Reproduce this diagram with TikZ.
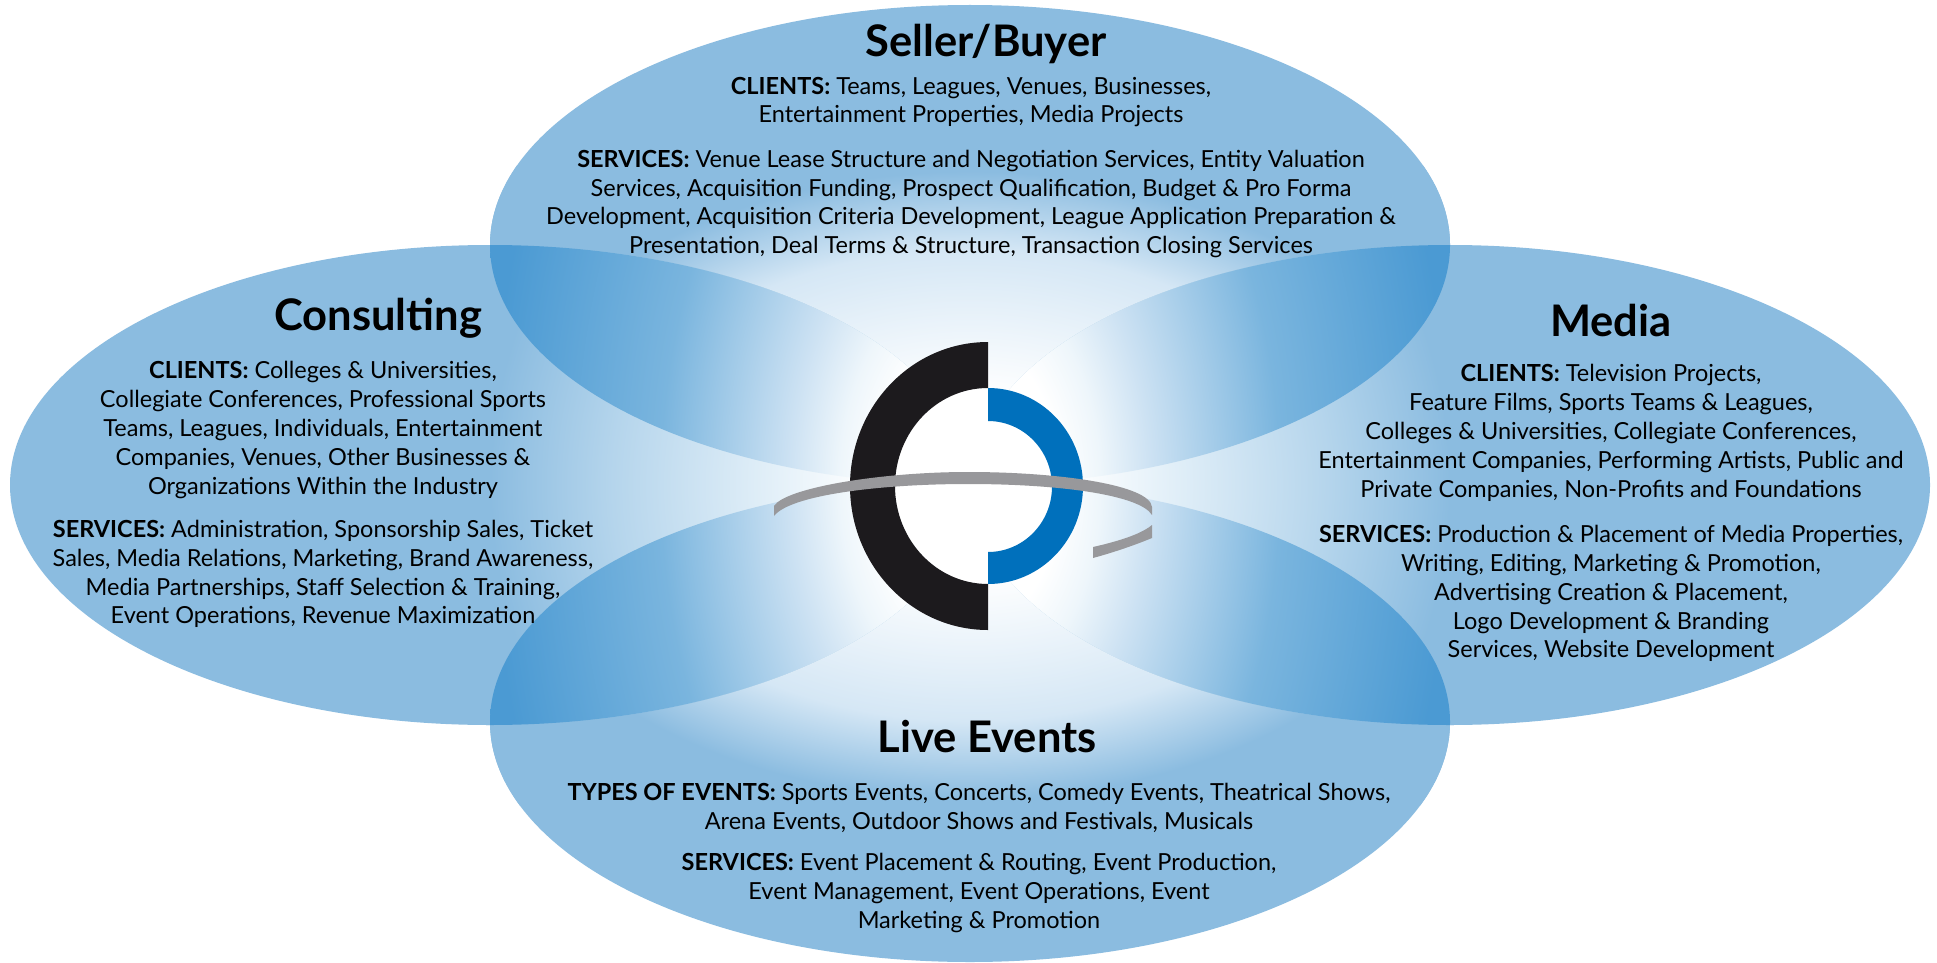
\documentclass[tikz,border=0pt]{standalone}
\usepackage{fontspec}
\setmainfont{Lato}
\definecolor{solo}{HTML}{8BBCE0}
\definecolor{lens}{HTML}{4B9AD3}
\definecolor{soloA}{HTML}{E5F1F9}
\definecolor{soloB}{HTML}{B5D5EC}
\definecolor{soloC}{HTML}{D5E7F5}
\definecolor{lensA}{HTML}{EEF6FB}
\definecolor{lensB}{HTML}{CDE2F3}
\definecolor{lensC}{HTML}{7AB5DE}
\definecolor{logoblack}{HTML}{1C1A1D}
\definecolor{logoblue}{HTML}{0070BC}
\definecolor{logogray}{HTML}{98989B}
\pgfdeclareradialshading{soloside}{\pgfpoint{0bp}{0bp}}{color(0bp)=(white); color(5bp)=(white); color(9.5bp)=(soloA); color(17.85bp)=(soloB); color(24bp)=(solo); color(50bp)=(solo)}
\pgfdeclareradialshading{solotop}{\pgfpoint{0bp}{0bp}}{color(0bp)=(white); color(7bp)=(white); color(18.4bp)=(soloC); color(24.5bp)=(solo); color(50bp)=(solo)}
\pgfdeclareradialshading{lensshade}{\pgfpoint{0bp}{0bp}}{color(0bp)=(white); color(4.5bp)=(white); color(6.5bp)=(lensA); color(9bp)=(lensB); color(15.5bp)=(lensC); color(24bp)=(lens); color(50bp)=(lens)}
\tikzset{
  titletext/.style={font=\fontsize{43.5}{48}\selectfont\bfseries, text=black, inner sep=0pt},
  bodytext/.style={font=\fontsize{23.5}{28.9}\selectfont, text=black, align=center, inner sep=0pt},
}
\newcommand{\lab}[1]{\textbf{#1}}
\begin{document}
\begin{tikzpicture}[x=1pt,y=-1pt]
\useasboundingbox (0,0) rectangle (1937,963);
\fill[white] (0,0) rectangle (1937,963);
% solo regions
\foreach \cx/\cy in {970/245, 970/722}{
  \fill[solo] (\cx,\cy) ellipse (480pt and 240pt);
  \begin{scope}
    \clip (\cx,\cy) ellipse (480pt and 240pt);
    \path[shading=solotop] (470,165) rectangle (1470,805);
  \end{scope}
}
\foreach \cx/\cy in {490/485, 1450/485}{
  \fill[solo] (\cx,\cy) ellipse (480pt and 240pt);
  \begin{scope}
    \clip (\cx,\cy) ellipse (480pt and 240pt);
    \path[shading=soloside] (470,-15) rectangle (1470,985);
  \end{scope}
}
% overlap lenses
\foreach \ax/\ay/\bx/\by in {970/245/490/485, 970/245/1450/485, 970/722/490/485, 970/722/1450/485}{
  \begin{scope}
    \clip (\ax,\ay) ellipse (480pt and 240pt);
    \clip (\bx,\by) ellipse (480pt and 240pt);
    \path[shading=lensshade] (470,-315) rectangle (1470,1285);
  \end{scope}
}
% logo
\fill[white] (988,486) ellipse (95pt and 98pt);
\fill[logoblack] (988,342) arc[start angle=90,end angle=270,x radius=138pt,y radius=144pt]
  -- (988,584) arc[start angle=270,end angle=90,x radius=93pt,y radius=98pt] -- cycle;
\fill[logoblue] (988,388) arc[start angle=90,end angle=-90,x radius=95pt,y radius=98pt]
  -- (988,552) arc[start angle=-90,end angle=90,x radius=64pt,y radius=65.5pt] -- cycle;
\fill[logogray] (774,506) .. controls (785,488) and (880,472) .. (968,472)
  .. controls (1060,472) and (1150,485) .. (1152,507) -- (1152,515)
  .. controls (1140,495) and (1060,484) .. (968,484)
  .. controls (880,484) and (790,495) .. (774,516) -- cycle;
\fill[logogray] (1152,525) -- (1152,538) .. controls (1135,545) and (1115,552) .. (1093,558)
  -- (1093,547) .. controls (1115,542) and (1140,535) .. (1152,525) -- cycle;
% titles
\node[titletext] (tSeller) at (986,44) {Seller/Buyer};
\node[titletext] (tConsulting) at (378,318) {Consulting};
\node[titletext] (tMedia) at (1611,321) {Media};
\node[titletext] (tLive) at (987,737) {Live Events};
% Seller/Buyer
\node[bodytext] (sbClients) at (971,102) {\lab{CLIENTS:} Teams, Leagues, Venues, Businesses,\\Entertainment Properties, Media Projects};
\node[bodytext] (sbServices) at (971,204) {\lab{SERVICES:} Venue Lease Structure and Negotiation Services, Entity Valuation\\Services, Acquisition Funding, Prospect Qualification, Budget \& Pro Forma\\Development, Acquisition Criteria Development, League Application Preparation \&\\Presentation, Deal Terms \& Structure, Transaction Closing Services};
% Consulting
\node[bodytext] (coClients) at (323,430) {\lab{CLIENTS:} Colleges \& Universities,\\Collegiate Conferences, Professional Sports\\Teams, Leagues, Individuals, Entertainment\\Companies, Venues, Other Businesses \&\\Organizations Within the Industry};
\node[bodytext] (coServices) at (323,574) {\lab{SERVICES:} Administration, Sponsorship Sales, Ticket\\Sales, Media Relations, Marketing, Brand Awareness,\\Media Partnerships, Staff Selection \& Training,\\Event Operations, Revenue Maximization};
% Media
\node[bodytext] (meClients) at (1611,433) {\lab{CLIENTS:} Television Projects,\\Feature Films, Sports Teams \& Leagues,\\Colleges \& Universities, Collegiate Conferences,\\Entertainment Companies, Performing Artists, Public and\\Private Companies, Non-Profits and Foundations};
\node[bodytext] (meServices) at (1611,593.5) {\lab{SERVICES:} Production \& Placement of Media Properties,\\Writing, Editing, Marketing \& Promotion,\\Advertising Creation \& Placement,\\Logo Development \& Branding\\Services, Website Development};
% Live Events
\node[bodytext] (leTypes) at (979,807.5) {\lab{TYPES OF EVENTS:} Sports Events, Concerts, Comedy Events, Theatrical Shows,\\Arena Events, Outdoor Shows and Festivals, Musicals};
\node[bodytext] (leServices) at (979,893) {\lab{SERVICES:} Event Placement \& Routing, Event Production,\\Event Management, Event Operations, Event\\Marketing \& Promotion};
\end{tikzpicture}
\end{document}
